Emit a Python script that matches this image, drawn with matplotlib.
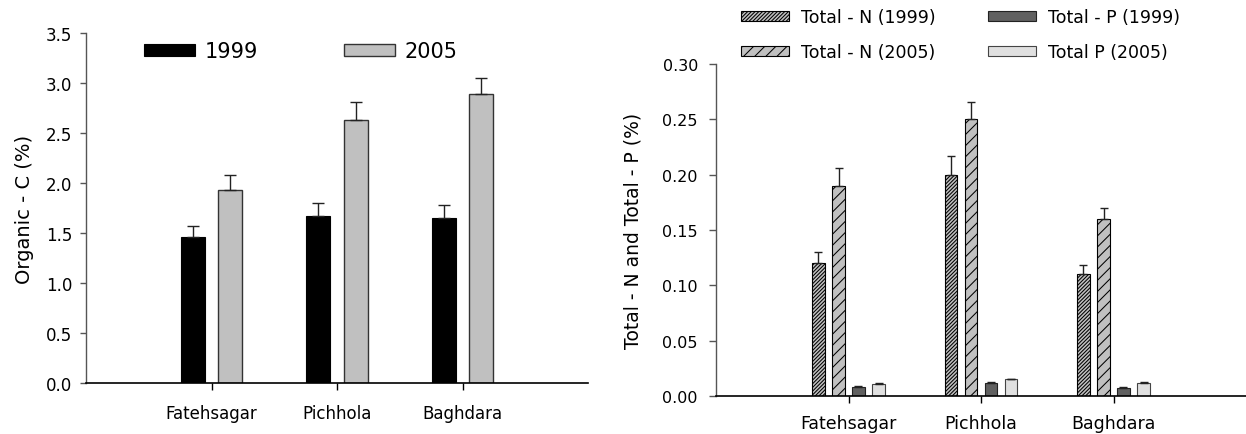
import matplotlib
matplotlib.use("Agg")
import matplotlib.pyplot as plt
import numpy as np

plt.rcParams['font.family'] = ['DejaVu Sans']
plt.rcParams['hatch.linewidth'] = 0.75

# ---------------- data ----------------
categories = ['Fatehsagar', 'Pichhola', 'Baghdara']

oc_1999 = [1.46, 1.67, 1.65]
oc_1999_err = [0.11, 0.13, 0.13]
oc_2005 = [1.93, 2.63, 2.89]
oc_2005_err = [0.15, 0.18, 0.16]

tn_1999 = [0.120, 0.200, 0.110]
tn_1999_err = [0.010, 0.017, 0.008]
tn_2005 = [0.190, 0.250, 0.160]
tn_2005_err = [0.016, 0.016, 0.010]
tp_1999 = [0.008, 0.012, 0.007]
tp_1999_err = [0.001, 0.001, 0.001]
tp_2005 = [0.011, 0.015, 0.012]
tp_2005_err = [0.001, 0.0005, 0.001]

left_yticks = [0.0, 0.5, 1.0, 1.5, 2.0, 2.5, 3.0, 3.5]
right_yticks = [0.00, 0.05, 0.10, 0.15, 0.20, 0.25, 0.30]

W, H = 1246, 435
fig = plt.figure(figsize=(W / 100, H / 100), dpi=100)

x = np.arange(1, len(categories) + 1)


def style_axes(ax):
    for s in ['top', 'right']:
        ax.spines[s].set_visible(False)
    ax.spines['left'].set_color('#555555')
    ax.spines['left'].set_linewidth(1.0)
    ax.spines['bottom'].set_color('black')
    ax.spines['bottom'].set_linewidth(1.2)


def up_err(e):
    e = np.asarray(e)
    return [np.zeros_like(e), e]


# ---------------- left chart ----------------
axL = fig.add_axes([86 / W, (H - 384) / H, (588 - 86) / W, (384 - 34) / H])
style_axes(axL)
bw = 0.19
off = 0.15
b1 = axL.bar(x - off, oc_1999, bw, color='black', edgecolor='black', linewidth=0.8,
             yerr=up_err(oc_1999_err), error_kw=dict(ecolor='#222222', elinewidth=1.0, capsize=4.5, capthick=1.0),
             label='1999')
b2 = axL.bar(x + off, oc_2005, bw, color='#c0c0c0', edgecolor='#333333', linewidth=1.0,
             yerr=up_err(oc_2005_err), error_kw=dict(ecolor='#222222', elinewidth=1.0, capsize=4.5, capthick=1.0),
             label='2005')
axL.set_xlim(0, 4.0)
axL.set_ylim(0, 3.5)
axL.set_yticks(left_yticks)
axL.set_yticklabels([f'{v:.1f}' for v in left_yticks])
axL.set_xticks(x)
axL.set_xticklabels(categories)
axL.tick_params(axis='y', direction='out', length=4, width=1, color='#555555', labelsize=12, pad=6)
axL.tick_params(axis='x', direction='out', length=5, width=1, labelsize=12, pad=10)
axL.set_ylabel('Organic - C (%)', fontsize=14)
axL.yaxis.set_label_coords(-0.104, 0.5)
axL.legend(handles=[b1, b2], labels=['1999', '2005'], ncol=2, frameon=False,
           fontsize=15, handlelength=2.45, handleheight=0.48, handletextpad=0.47,
           columnspacing=4.1, borderpad=0, borderaxespad=0,
           loc='center left', bbox_to_anchor=(144 / W, 1 - 52.5 / H),
           bbox_transform=fig.transFigure)

# ---------------- right chart ----------------
axR = fig.add_axes([716 / W, (H - 397) / H, (1246 - 716) / W, (397 - 65) / H])
style_axes(axR)
rw = 0.095
ekw = dict(ecolor='#222222', elinewidth=1.0, capsize=3.2, capthick=1.0)
r1 = axR.bar(x - 0.227, tn_1999, rw, color='#c0c0c0', edgecolor='black', linewidth=0.8,
             hatch='/' * 9, yerr=up_err(tn_1999_err), error_kw=ekw)
r2 = axR.bar(x - 0.075, tn_2005, rw, color='#c0c0c0', edgecolor='black', linewidth=0.8,
             hatch='///', yerr=up_err(tn_2005_err), error_kw=ekw)
r3 = axR.bar(x + 0.075, tp_1999, rw, color='#606060', edgecolor='#222222', linewidth=0.8,
             yerr=up_err(tp_1999_err), error_kw=ekw)
r4 = axR.bar(x + 0.227, tp_2005, rw, color='#e0e0e0', edgecolor='#444444', linewidth=0.8,
             yerr=up_err(tp_2005_err), error_kw=ekw)
axR.set_xlim(0, 4.0)
axR.set_ylim(0, 0.30)
axR.set_yticks(right_yticks)
axR.set_yticklabels([f'{v:.2f}' for v in right_yticks])
axR.set_xticks(x)
axR.set_xticklabels(categories)
axR.tick_params(axis='y', direction='out', length=5, width=1, color='#555555', labelsize=11.5, pad=8)
axR.tick_params(axis='x', direction='out', length=5, width=1, labelsize=12.5, pad=8)
axR.set_ylabel('Total - N and Total - P (%)', fontsize=13.5)
axR.yaxis.set_label_coords(-0.138, 0.5)
fig.legend(handles=[r1, r2, r3, r4],
           labels=['Total - N (1999)', 'Total - N (2005)', 'Total - P (1999)', 'Total P (2005)'],
           ncol=2, frameon=False, fontsize=12.5, handlelength=2.76, handleheight=0.52,
           handletextpad=0.69, columnspacing=3.0, labelspacing=0.95,
           borderpad=0, borderaxespad=0,
           loc='center left', bbox_to_anchor=(741 / W, 1 - 35.5 / H),
           bbox_transform=fig.transFigure)

fig.savefig('out.png', dpi=100)
